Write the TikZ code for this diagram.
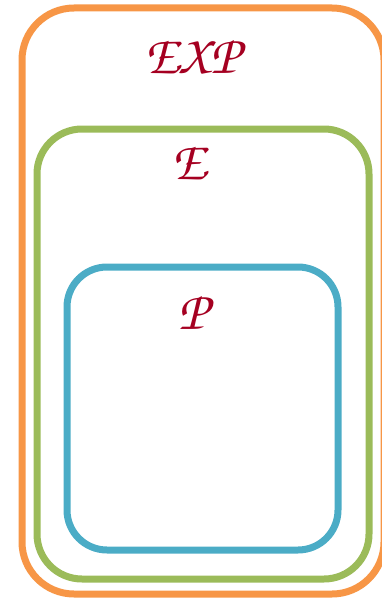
\documentclass[tikz,border=0pt]{standalone}
\usepackage[T1]{fontenc}
\definecolor{oorange}{HTML}{F79646}
\definecolor{ogreen}{HTML}{9BBB59}
\definecolor{oblue}{HTML}{4BACC6}
\definecolor{lred}{HTML}{A50021}
\newcommand{\chanc}{\fontencoding{T1}\fontfamily{pzc}\fontseries{mb}\fontshape{it}\fontsize{55}{60}\selectfont}
\begin{document}
\begin{tikzpicture}[x=1pt,y=-1pt,
  setbox/.style={line width=7pt,rounded corners=#1},
  setlabel/.style={text=lred,font=\chanc,inner sep=0pt}]
\useasboundingbox (0,0) rectangle (382,599);
\clip (0,0) rectangle (382,599);
\draw[setbox=52pt,draw=oorange] (22,8) rectangle (384,594);
\draw[setbox=45pt,draw=ogreen] (37,129) rectangle (369,579);
\draw[setbox=40pt,draw=oblue] (67,267) rectangle (338,550);
\node[setlabel] (exp) at (193,57) {EXP};
\node[setlabel] (e) at (190,163) {E};
\node[setlabel] (p) at (193,313) {P};
\end{tikzpicture}
\end{document}
